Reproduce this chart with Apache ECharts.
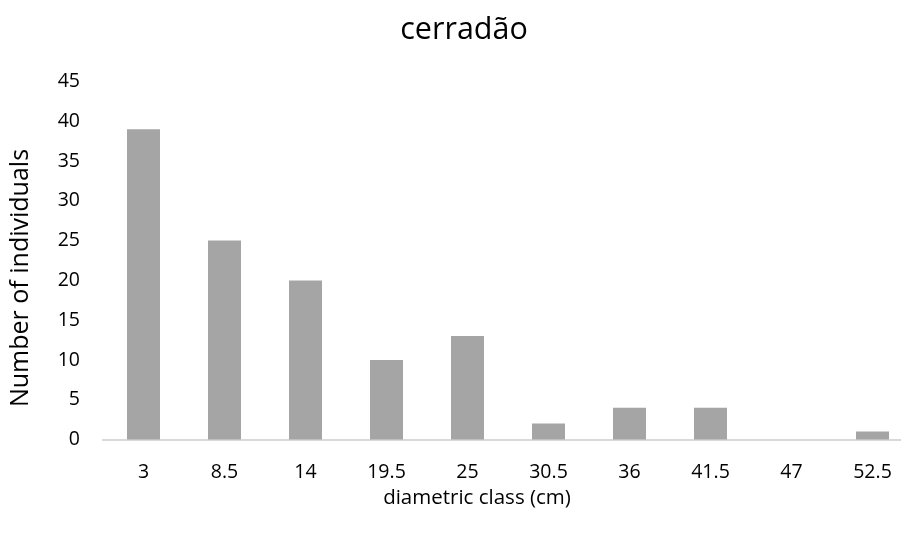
<!DOCTYPE html>
<html><head><meta charset="utf-8">
<script src="https://cdn.jsdelivr.net/npm/echarts@6/dist/echarts.min.js"></script>
<style>html,body{margin:0;padding:0;background:#fff;overflow:hidden}#c{width:920px;height:534px}</style>
</head><body><div id="c"></div>
<script>
const titleText = 'cerradão';
const categories = ['3','8.5','14','19.5','25','30.5','36','41.5','47','52.5'];
const counts = [39,25,20,10,13,2,4,4,0,1];
const yTicks = {min:0, max:45, interval:5};
const xName = 'diametric class (cm)';
const yName = 'Number of individuals';
const FONT = '"Open Sans", "Noto Sans", sans-serif';
const chart = echarts.init(document.getElementById('c'), null, {renderer:'canvas'});
chart.setOption({
  animation:false,
  backgroundColor:'#fff',
  title:{text:titleText, left:459, top:10, textAlign:'center',
    textStyle:{fontFamily:FONT, fontSize:30.5, fontWeight:'normal', color:'#000'}},
  grid:{left:103, top:81.5, width:810, height:358},
  xAxis:{type:'category', data:categories,
    axisLine:{lineStyle:{color:'#d9d9d9', width:2}},
    axisTick:{show:false},
    axisLabel:{fontFamily:FONT, fontSize:19.5, color:'#000', margin:23}},
  yAxis:{type:'value', min:yTicks.min, max:yTicks.max, interval:yTicks.interval,
    axisLine:{show:false}, axisTick:{show:false}, splitLine:{show:false},
    axisLabel:{fontFamily:FONT, fontSize:19.5, color:'#000', margin:23}},
  graphic:[
    {type:'text', x:477, y:498,
     style:{text:xName, fontFamily:FONT, fontSize:20.5, fill:'#000', align:'center', verticalAlign:'middle'}},
    {type:'text', x:21, y:278, rotation:Math.PI/2,
     style:{text:yName, fontFamily:FONT, fontSize:25, fill:'#000', align:'center', verticalAlign:'middle'}}
  ],
  series:[{type:'bar', data:counts, barWidth:33,
    itemStyle:{color:'#a5a5a5'}}]
});
</script></body></html>
